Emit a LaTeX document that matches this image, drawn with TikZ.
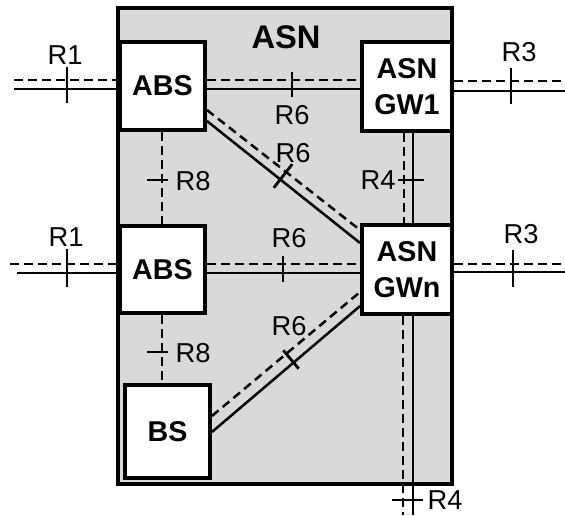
\documentclass[tikz,border=0pt]{standalone}
\usepackage{fontspec}
\setmainfont{Liberation Sans}
\usetikzlibrary{calc}
\definecolor{asngray}{RGB}{217,217,217}
\begin{document}
\begin{tikzpicture}[x=0.75pt,y=-0.75pt,
  box/.style={draw, line width=2.9pt, fill=white, inner sep=0pt,
    font=\fontsize{21.5}{27}\selectfont\bfseries, align=center},
  sol/.style={line width=1.9pt},
  dsh/.style={line width=1.9pt, dash pattern=on 6.5pt off 4pt},
  tck/.style={line width=2.1pt},
  lbl/.style={font=\fontsize{20.5}{24}\selectfont, inner sep=0pt}
]
\useasboundingbox (0,0) rectangle (565,515);
% ASN domain
\node[draw, line width=2.5pt, fill=asngray, inner sep=0pt,
  minimum width=250.5pt, minimum height=357pt] (asn) at (285,246) {};
\node[font=\fontsize{24.5}{28}\selectfont\bfseries, inner sep=0pt] (asnt) at (286,37) {ASN};
% boxes
\node[box, minimum width=63.75pt, minimum height=66pt] (abs1) at (162.5,86) {ABS};
\node[box, minimum width=63.75pt, minimum height=65.25pt] (abs2) at (162.5,269.5) {ABS};
\node[box, minimum width=63.75pt, minimum height=69.75pt] (bs) at (167.5,431.5) {BS};
\node[box, minimum width=67.5pt, minimum height=66.75pt] (gw1) at (407,86.5) {ASN\\GW1};
\node[box, minimum width=67.5pt, minimum height=66.75pt] (gwn) at (407,269.5) {ASN\\GWn};
% free ends
\coordinate (l1d) at (14,80);
\coordinate (l1s) at (14,89);
\coordinate (l2d) at (10,264);
\coordinate (l2s) at (17,273);
\coordinate (r1d) at (565,81);
\coordinate (r1s) at (565,91);
\coordinate (r2d) at (565,264);
\coordinate (r2s) at (565,272);
\coordinate (bd) at (403,515);
\coordinate (bsl) at (413,515);
% R1 top
\draw[dsh] (l1d) -- (abs1.west |- l1d);
\draw[sol] (l1s) -- (abs1.west |- l1s);
\draw[tck] (67,67) -- (67,103);
\node[lbl] (lr1a) at (65,55) {R1};
% R1 bottom
\draw[dsh] (l2d) -- (abs2.west |- l2d);
\draw[sol] (l2s) -- (abs2.west |- l2s);
\draw[tck] (67,249) -- (67,287);
\node[lbl] (lr1b) at (66,237) {R1};
% R6 ABS1-GW1
\draw[dsh] (abs1.east |- 0,80) -- (gw1.west |- 0,80);
\draw[sol] (abs1.east |- 0,89) -- (gw1.west |- 0,89);
\draw[tck] (292,72) -- (292,97);
\node[lbl] (lr6a) at (292,115) {R6};
% R6 ABS1-GWn diagonal
\draw[dsh] (abs1.east |- 0,110) -- (gwn.west |- 0,230);
\draw[sol] (abs1.east |- 0,121) -- (gwn.west |- 0,243);
\draw[tck] (273.8,187.8) -- (292.2,164.2);
\node[lbl] (lr6b) at (293,153) {R6};
% R6 ABS2-GWn
\draw[dsh] (abs2.east |- 0,264) -- (gwn.west |- 0,264);
\draw[sol] (abs2.east |- 0,273) -- (gwn.west |- 0,273);
\draw[tck] (283,256) -- (283,282);
\node[lbl] (lr6c) at (289,238) {R6};
% R6 BS-GWn diagonal
\draw[dsh] (bs.east |- 0,416) -- (gwn.west |- 0,292);
\draw[sol] (bs.east |- 0,432) -- (gwn.west |- 0,306);
\draw[tck] (283.3,350.3) -- (298.7,368.7);
\node[lbl] (lr6d) at (289,326) {R6};
% R8 ABS1-ABS2
\draw[dsh] (abs1.south -| 162,0) -- (abs2.north -| 162,0);
\draw[tck] (147,180) -- (168,180);
\node[lbl] (lr8a) at (193,181) {R8};
% R8 ABS2-BS
\draw[dsh] (abs2.south -| 162,0) -- (bs.north -| 162,0);
\draw[tck] (147,352) -- (168,352);
\node[lbl] (lr8b) at (193,353) {R8};
% R4 GW1-GWn
\draw[dsh] (gw1.south -| 404,0) -- (gwn.north -| 404,0);
\draw[sol] (gw1.south -| 413,0) -- (gwn.north -| 413,0);
\draw[tck] (398,180) -- (424,180);
\node[lbl] (lr4a) at (378,180) {R4};
% R4 GWn down
\draw[dsh] (gwn.south -| bd) -- (bd);
\draw[sol] (gwn.south -| bsl) -- (bsl);
\draw[tck] (392,500) -- (423,500);
\node[lbl] (lr4b) at (445,500) {R4};
% R3 top
\draw[dsh] (gw1.east |- r1d) -- (r1d);
\draw[sol] (gw1.east |- r1s) -- (r1s);
\draw[tck] (511,68) -- (511,104);
\node[lbl] (lr3a) at (519,52) {R3};
% R3 bottom
\draw[dsh] (gwn.east |- r2d) -- (r2d);
\draw[sol] (gwn.east |- r2s) -- (r2s);
\draw[tck] (513,250) -- (513,287);
\node[lbl] (lr3b) at (521,234) {R3};
\end{tikzpicture}
\end{document}
